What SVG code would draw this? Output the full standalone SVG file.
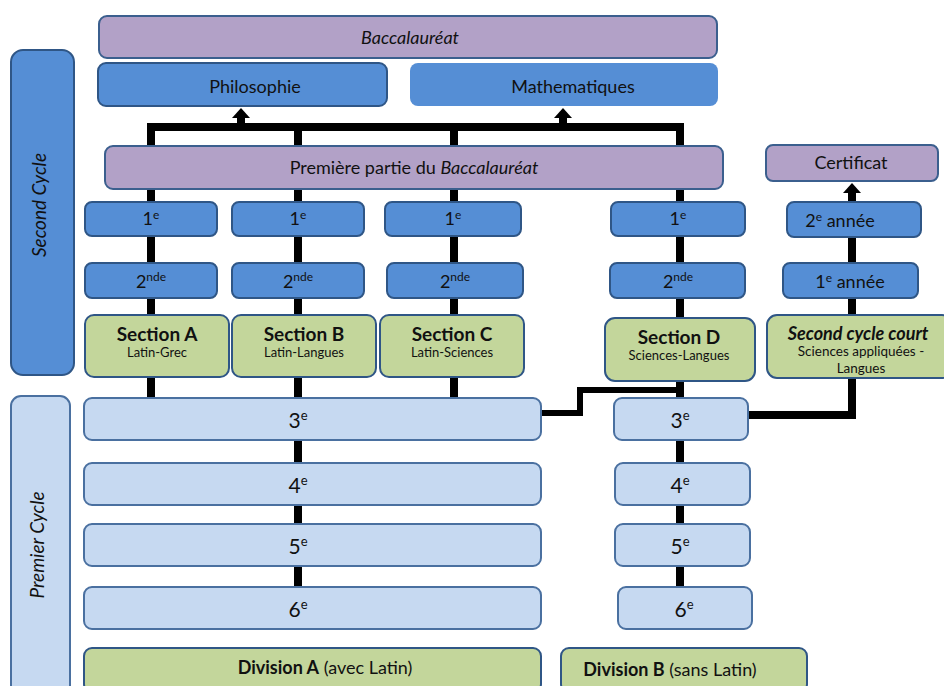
<svg xmlns="http://www.w3.org/2000/svg" width="944" height="686" viewBox="0 0 944 686">
<defs>
<style>
.t{font-family:Lato,"Open Sans","Liberation Sans",sans-serif;fill:#111;text-anchor:middle}
.pur{fill:#b2a1c7;stroke:#3b5f8e;stroke-width:2}
.blu{fill:#558ed5;stroke:#2f5686;stroke-width:2}
.lb{fill:#c6d9f1;stroke:#4a70a0;stroke-width:2}
.gr{fill:#c3d69b;stroke:#2f5686;stroke-width:2}
.ln{stroke:#000;stroke-width:8;fill:none}
.ln2{stroke:#000;stroke-width:6;fill:none}
</style>
</defs>
<rect width="944" height="686" fill="#fff"/>
<g id="connectors">
<path class="ln" d="M151 398V127H680V398M298 127V398M454 127V398"/>
<path class="ln" d="M241 127V116M563 127V116"/>
<polygon points="232,118 250,118 241,108"/>
<polygon points="554,118 572,118 563,108"/>
<path class="ln" d="M298 440V590M680 440V590"/>
<path class="ln2" d="M541 413H580V390H680"/>
<path class="ln" d="M748 415H852V375M852 315V192"/>
<polygon points="843,193 861,193 852,183"/>
</g>
<g id="baccalaureat"><rect class="pur" x="99" y="16" width="618" height="42" rx="8"/><text class="t" x="410" y="44" font-size="18" font-style="italic">Baccalauréat</text></g>
<g id="philosophie"><rect class="blu" x="98" y="63" width="289" height="43" rx="8"/><text class="t" x="255" y="93" font-size="18">Philosophie</text></g>
<g id="mathematiques"><rect x="410" y="63" width="308" height="43" rx="8" fill="#558ed5"/><text class="t" x="573" y="93" font-size="18">Mathematiques</text></g>
<g id="premiere-partie"><rect class="pur" x="105" y="146" width="618" height="43" rx="8"/><text class="t" x="414" y="174" font-size="18">Première partie du <tspan font-style="italic">Baccalauréat</tspan></text></g>
<g id="certificat"><rect class="pur" x="766" y="145" width="172" height="36" rx="7"/><text class="t" x="851" y="169" font-size="18">Certificat</text></g>
<g id="second-cycle"><rect class="blu" x="11" y="50" width="63" height="325" rx="12"/><text class="t" transform="translate(46 205) rotate(-90)" font-size="19" font-style="italic">Second Cycle</text></g>
<g id="premier-cycle"><rect class="lb" x="11" y="396" width="59" height="300" rx="10"/><text class="t" transform="translate(44 545) rotate(-90)" font-size="19" font-style="italic">Premier Cycle</text></g>
<g id="a1"><rect class="blu" x="85" y="202" width="132" height="34" rx="7"/><text class="t" x="151" y="225" font-size="18">1<tspan dy="-6" font-size="12">e</tspan></text></g>
<g id="b1"><rect class="blu" x="232" y="202" width="132" height="34" rx="7"/><text class="t" x="298" y="225" font-size="18">1<tspan dy="-6" font-size="12">e</tspan></text></g>
<g id="c1"><rect class="blu" x="385" y="202" width="136" height="34" rx="7"/><text class="t" x="453" y="225" font-size="18">1<tspan dy="-6" font-size="12">e</tspan></text></g>
<g id="d1"><rect class="blu" x="611" y="202" width="134" height="34" rx="7"/><text class="t" x="678" y="225" font-size="18">1<tspan dy="-6" font-size="12">e</tspan></text></g>
<g id="annee2"><rect class="blu" x="787" y="202" width="134" height="35" rx="7"/><text class="t" x="840" y="227" font-size="18">2<tspan dy="-6" font-size="12">e</tspan><tspan dy="6">  année</tspan></text></g>
<g id="a2"><rect class="blu" x="85" y="263" width="132" height="35" rx="7"/><text class="t" x="151" y="288" font-size="18">2<tspan dy="-7" font-size="12">nde</tspan></text></g>
<g id="b2"><rect class="blu" x="232" y="263" width="132" height="35" rx="7"/><text class="t" x="298" y="288" font-size="18">2<tspan dy="-7" font-size="12">nde</tspan></text></g>
<g id="c2"><rect class="blu" x="387" y="263" width="136" height="35" rx="7"/><text class="t" x="455" y="288" font-size="18">2<tspan dy="-7" font-size="12">nde</tspan></text></g>
<g id="d2"><rect class="blu" x="610" y="263" width="135" height="35" rx="7"/><text class="t" x="678" y="288" font-size="18">2<tspan dy="-7" font-size="12">nde</tspan></text></g>
<g id="annee1"><rect class="blu" x="783" y="263" width="135" height="35" rx="7"/><text class="t" x="850" y="288" font-size="18">1<tspan dy="-6" font-size="12">e</tspan><tspan dy="6"> année</tspan></text></g>
<g id="section-a"><rect class="gr" x="85" y="315" width="144" height="62" rx="9"/><text class="t" x="157" y="341" font-size="19" font-weight="bold">Section A</text><text class="t" x="157" y="357" font-size="13">Latin-Grec</text></g>
<g id="section-b"><rect class="gr" x="232" y="315" width="144" height="62" rx="9"/><text class="t" x="304" y="341" font-size="19" font-weight="bold">Section B</text><text class="t" x="304" y="357" font-size="13">Latin-Langues</text></g>
<g id="section-c"><rect class="gr" x="380" y="315" width="144" height="62" rx="9"/><text class="t" x="452" y="341" font-size="19" font-weight="bold">Section  C</text><text class="t" x="452" y="357" font-size="13">Latin-Sciences</text></g>
<g id="section-d"><rect class="gr" x="605" y="318" width="150" height="63" rx="10"/><text class="t" x="679" y="344" font-size="19" font-weight="bold">Section D</text><text class="t" x="679" y="360" font-size="13">Sciences-Langues</text></g>
<g id="second-cycle-court"><rect class="gr" x="767" y="315" width="185" height="63" rx="10"/><text class="t" x="858" y="340" font-size="18" font-weight="bold" font-style="italic">Second cycle court</text><text class="t" x="861" y="356" font-size="13.5">Sciences appliquées -</text><text class="t" x="861" y="373" font-size="13.5">Langues</text></g>
<g id="a3"><rect class="lb" x="84" y="398" width="457" height="42" rx="8"/><text class="t" x="298" y="428" font-size="21">3<tspan dy="-8" font-size="13">e</tspan></text></g>
<g id="a4"><rect class="lb" x="84" y="463" width="457" height="42" rx="8"/><text class="t" x="298" y="493" font-size="21">4<tspan dy="-8" font-size="13">e</tspan></text></g>
<g id="a5"><rect class="lb" x="84" y="524" width="457" height="42" rx="8"/><text class="t" x="298" y="554" font-size="21">5<tspan dy="-8" font-size="13">e</tspan></text></g>
<g id="a6"><rect class="lb" x="84" y="587" width="457" height="42" rx="8"/><text class="t" x="298" y="617" font-size="21">6<tspan dy="-8" font-size="13">e</tspan></text></g>
<g id="division-a"><rect class="gr" x="84" y="648" width="457" height="44" rx="8"/><text class="t" x="325" y="674" font-size="18"><tspan font-weight="bold">Division A</tspan> (avec Latin)</text></g>
<g id="b3"><rect class="lb" x="614" y="398" width="134" height="42" rx="8"/><text class="t" x="680" y="428" font-size="21">3<tspan dy="-8" font-size="13">e</tspan></text></g>
<g id="b4"><rect class="lb" x="615" y="463" width="135" height="42" rx="8"/><text class="t" x="680" y="493" font-size="21">4<tspan dy="-8" font-size="13">e</tspan></text></g>
<g id="b5"><rect class="lb" x="615" y="524" width="135" height="42" rx="8"/><text class="t" x="680" y="554" font-size="21">5<tspan dy="-8" font-size="13">e</tspan></text></g>
<g id="b6"><rect class="lb" x="618" y="587" width="134" height="42" rx="8"/><text class="t" x="684" y="617" font-size="21">6<tspan dy="-8" font-size="13">e</tspan></text></g>
<g id="division-b"><rect class="gr" x="561" y="648" width="246" height="44" rx="8"/><text class="t" x="670" y="676" font-size="18"><tspan font-weight="bold">Division B</tspan> (sans Latin)</text></g>
</svg>
